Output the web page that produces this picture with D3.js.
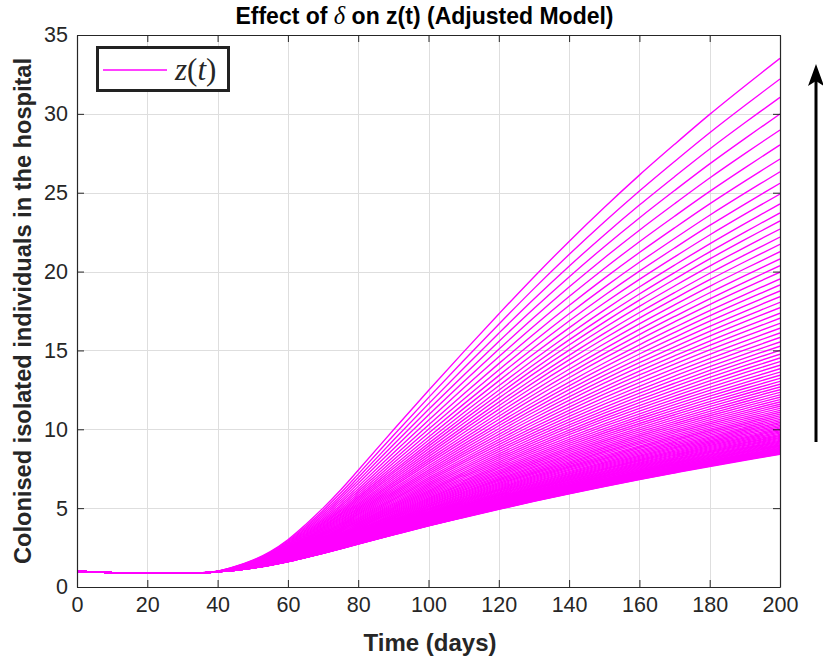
<!doctype html>
<html lang="en">
<head>
<meta charset="utf-8">
<title>Effect of delta on z(t)</title>
<style>
html, body {
	margin: 0;
	padding: 0;
	width: 100%;
	height: 100%;
	overflow: hidden;
	background: #fff;
	font-family: 'Liberation Sans', Arial, sans-serif;
}
#container {
	position: absolute;
	top: 0;
	left: 0;
}
svg .tick text {
	fill: #262626;
	font-size: 21.5px;
	font-family: 'Liberation Sans', Arial, sans-serif;
}
svg .domain, svg .tick line {
	stroke: #262626;
}
svg .grid line {
	stroke: #dedede;
	stroke-width: 1px;
	shape-rendering: crispEdges;
}
svg path.curve {
	fill: none;
	stroke: #ff00ff;
	stroke-width: 1.35px;
}
</style>
</head>
<body>
<div id="container"></div>

<script src="https://cdnjs.cloudflare.com/ajax/libs/d3/7.8.5/d3.min.js"></script>
<script>
/* DATA */

var days = [0, 5, 10, 15, 20, 25, 30, 35, 40, 45, 50, 55, 60, 65, 70, 75, 80,
	90, 100, 110, 120, 130, 140, 150, 160, 170, 180, 190, 200];

// largest delta curve (top of the fan)
var highCurve = [1.00, 0.95, 0.91, 0.89, 0.88, 0.87, 0.87, 0.89, 1.00, 1.30, 1.70, 2.25, 3.00, 3.95, 5.00, 6.15, 7.40,
	9.95, 12.45, 14.90, 17.30, 19.65, 21.90, 24.05, 26.10, 28.05, 29.95, 31.75, 33.50];

// smallest delta curve (bottom of the fan)
var lowCurve = [1.00, 0.95, 0.91, 0.89, 0.88, 0.87, 0.87, 0.88, 0.97, 1.06, 1.20, 1.38, 1.60, 1.86, 2.13, 2.42, 2.72,
	3.30, 3.87, 4.40, 4.92, 5.42, 5.90, 6.36, 6.80, 7.22, 7.63, 8.02, 8.40];

// z(200) of every curve in the family, read at the right edge
var endValues = [33.52, 32.21, 31.05, 29.99, 28.98, 28.03, 27.14, 26.33, 25.60, 24.92,
	24.29, 23.72, 23.21, 22.70, 22.19, 21.73, 21.26, 20.80, 20.37, 19.96,
	19.53, 19.15, 18.77, 18.41, 18.05, 17.71, 17.36, 17.04, 16.72, 16.41,
	16.11, 15.82, 15.54, 15.27, 15.01, 14.76, 14.52, 14.29, 14.06, 13.84,
	13.63, 13.43, 13.23, 13.04, 12.86, 12.68, 12.51, 12.34, 12.18, 12.03,
	11.88, 11.73, 11.59, 11.46, 11.33, 11.20, 11.08, 10.96, 10.85, 10.74,
	10.63, 10.53, 10.43, 10.34, 10.25, 10.16, 10.07, 9.99, 9.91, 9.83,
	9.76, 9.68, 9.61, 9.55, 9.48, 9.42, 9.36, 9.30, 9.24, 9.19,
	9.13, 9.08, 9.03, 8.99, 8.94, 8.90, 8.85, 8.81, 8.77, 8.73,
	8.70, 8.66, 8.63, 8.59, 8.56, 8.53, 8.50, 8.47, 8.44, 8.41];

var xTicks = [0, 20, 40, 60, 80, 100, 120, 140, 160, 180, 200];
var yTicks = [0, 5, 10, 15, 20, 25, 30, 35];

(function _chart(d3) {

	'use strict';

	/* CONST */

	var W = 823, H = 658;
	var box = { left: 77, right: 780, top: 35, bottom: 587 };
	var TICK = 7;

	var x = d3.scaleLinear().domain([0, 200]).range([box.left, box.right]);
	var y = d3.scaleLinear().domain([0, 35]).range([box.bottom, box.top]);

	/* DATA */

	// each curve sits between the envelopes, placed by its own end value
	var lowEnd = lowCurve[lowCurve.length - 1];
	var highEnd = highCurve[highCurve.length - 1];
	var curves = endValues.map(function (e) {
		var w = (e - lowEnd) / (highEnd - lowEnd);
		return days.map(function (t, i) {
			return { t: t, z: lowCurve[i] + w * (highCurve[i] - lowCurve[i]) };
		});
	});

	/* RENDER */

	var svg = d3.select('#container').append('svg')
		.attr('width', W)
		.attr('height', H);

	svg.append('defs').append('clipPath')
		.attr('id', 'plot-clip')
		.append('rect')
		.attr('x', box.left)
		.attr('y', box.top)
		.attr('width', box.right - box.left)
		.attr('height', box.bottom - box.top);

	// grid
	var grid = svg.append('g').attr('class', 'grid');
	grid.selectAll('line.gx').data(xTicks.slice(1, -1)).enter()
		.append('line')
		.attr('x1', function (d) { return Math.round(x(d)) + 0.5; })
		.attr('x2', function (d) { return Math.round(x(d)) + 0.5; })
		.attr('y1', box.top)
		.attr('y2', box.bottom);
	grid.selectAll('line.gy').data(yTicks.slice(1, -1)).enter()
		.append('line')
		.attr('y1', function (d) { return Math.round(y(d)) + 0.5; })
		.attr('y2', function (d) { return Math.round(y(d)) + 0.5; })
		.attr('x1', box.left)
		.attr('x2', box.right);

	// curves
	var line = d3.line()
		.x(function (d) { return x(d.t); })
		.y(function (d) { return y(d.z); })
		.curve(d3.curveCatmullRom.alpha(0.5));

	svg.append('g')
		.attr('clip-path', 'url(#plot-clip)')
		.selectAll('path')
		.data(curves).enter()
		.append('path')
		.attr('class', 'curve')
		.attr('d', line);

	// axes, ticks pointing inwards like matlab
	svg.append('g')
		.attr('transform', 'translate(0,' + box.bottom + ')')
		.call(d3.axisBottom(x).tickValues(xTicks).tickSizeInner(-TICK).tickSizeOuter(0).tickPadding(10));
	svg.append('g')
		.attr('transform', 'translate(0,' + box.top + ')')
		.call(d3.axisTop(x).tickValues(xTicks).tickSizeInner(-TICK).tickSizeOuter(0).tickFormat(''));
	svg.append('g')
		.attr('transform', 'translate(' + box.left + ',0)')
		.call(d3.axisLeft(y).tickValues(yTicks).tickSizeInner(-TICK).tickSizeOuter(0).tickPadding(9));
	svg.append('g')
		.attr('transform', 'translate(' + box.right + ',0)')
		.call(d3.axisRight(y).tickValues(yTicks).tickSizeInner(-TICK).tickSizeOuter(0).tickFormat(''));

	svg.selectAll('.domain').attr('stroke-width', 1.2);

	// titles
	var title = svg.append('text')
		.attr('x', (box.left + box.right) / 2 - 4)
		.attr('y', 24)
		.attr('text-anchor', 'middle')
		.style('font-size', '23px')
		.style('font-weight', 'bold')
		.attr('fill', '#000');
	title.append('tspan').text('Effect of ');
	title.append('tspan')
		.style('font-family', "'Liberation Serif', serif")
		.style('font-style', 'italic')
		.style('font-weight', 'normal')
		.style('font-size', '24.5px')
		.text('δ');
	title.append('tspan').text(' on z(t) (Adjusted Model)');

	svg.append('text')
		.attr('x', 430)
		.attr('y', 651)
		.attr('text-anchor', 'middle')
		.style('font-size', '24px')
		.style('font-weight', 'bold')
		.attr('fill', '#262626')
		.text('Time (days)');

	svg.append('text')
		.attr('transform', 'translate(31,' + ((box.top + box.bottom) / 2) + ') rotate(-90)')
		.attr('text-anchor', 'middle')
		.style('font-size', '23.6px')
		.style('font-weight', 'bold')
		.attr('fill', '#262626')
		.text('Colonised isolated individuals in the hospital');

	// legend
	var lg = svg.append('g');
	lg.append('rect')
		.attr('x', 97.5).attr('y', 47.5)
		.attr('width', 131).attr('height', 43)
		.attr('fill', '#fff')
		.attr('stroke', '#222')
		.attr('stroke-width', 3);
	lg.append('line')
		.attr('x1', 103).attr('x2', 167)
		.attr('y1', 70).attr('y2', 70)
		.attr('stroke', '#ff00ff')
		.attr('stroke-width', 1.3);
	var lt = lg.append('text')
		.attr('x', 175).attr('y', 79.5)
		.style('font-family', "'Liberation Serif', serif")
		.style('font-size', '31px')
		.attr('fill', '#262626');
	lt.append('tspan').style('font-style', 'italic').text('z');
	lt.append('tspan').text('(');
	lt.append('tspan').style('font-style', 'italic').text('t');
	lt.append('tspan').text(')');

	// arrow showing the direction of increasing delta
	var ax = 816;
	svg.append('line')
		.attr('x1', ax).attr('x2', ax)
		.attr('y1', 442).attr('y2', 80)
		.attr('stroke', '#000')
		.attr('stroke-width', 3);
	svg.append('path')
		.attr('d', 'M' + ax + ',64 L' + (ax + 8) + ',86 L' + ax + ',81 L' + (ax - 8) + ',86 Z')
		.attr('fill', '#000');

})(window.d3);
</script>
</body>
</html>
